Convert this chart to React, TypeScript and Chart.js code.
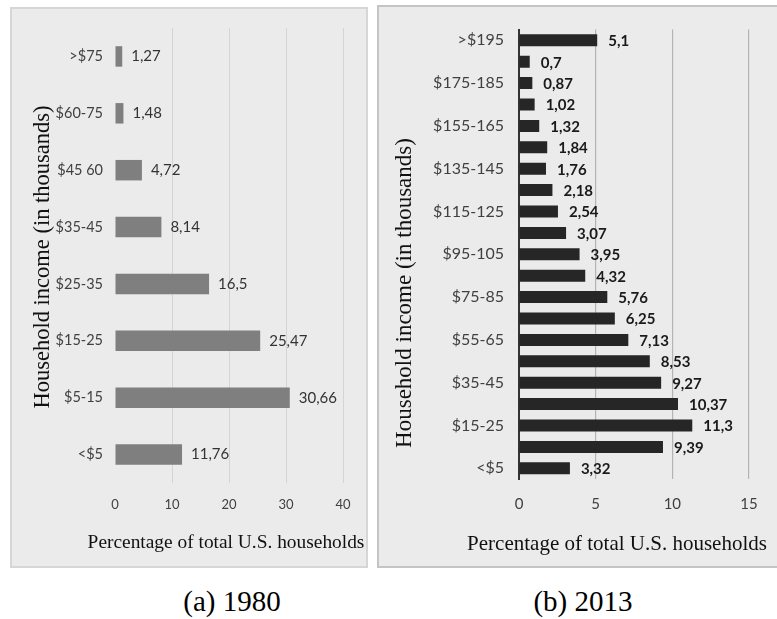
import React, { useEffect, useRef } from "react";
import { Chart, registerables } from "chart.js";

Chart.register(...registerables);

// ---- Data ----
const labels1980 = [">$75", "$60-75", "$45 60", "$35-45", "$25-35", "$15-25", "$5-15", "<$5"];
const values1980 = [1.27, 1.48, 4.72, 8.14, 16.5, 25.47, 30.66, 11.76];
const ticks1980 = [0, 10, 20, 30, 40];

const labels2013 = [
  ">$195", "$185-195", "$175-185", "$165-175", "$155-165", "$145-155", "$135-145",
  "$125-135", "$115-125", "$105-115", "$95-105", "$85-95", "$75-85", "$65-75",
  "$55-65", "$45-55", "$35-45", "$25-35", "$15-25", "$5-15", "<$5",
];
const values2013 = [
  5.1, 0.7, 0.87, 1.02, 1.32, 1.84, 1.76, 2.18, 2.54, 3.07, 3.95, 4.32, 5.76, 6.25,
  7.13, 8.53, 9.27, 10.37, 11.3, 9.39, 3.32,
];
const ticks2013 = [0, 5, 10, 15];

const xTitle = "Percentage of total U.S. households";
const yTitle = "Household income (in thousands)";
const caption1980 = "(a) 1980";
const caption2013 = "(b) 2013";

const fmt = (v: number) => String(v).replace(".", ",");

const valueLabels = {
  id: "valueLabels",
  afterDatasetsDraw(chart: any, _args: any, opts: any) {
    const ctx = chart.ctx;
    const meta = chart.getDatasetMeta(0);
    const data = chart.data.datasets[0].data as number[];
    ctx.save();
    ctx.font = opts.font;
    ctx.fillStyle = opts.color;
    ctx.textAlign = "left";
    ctx.textBaseline = "middle";
    meta.data.forEach((bar: any, i: number) => {
      ctx.fillText(fmt(data[i]), bar.x + opts.offset, bar.y + (opts.dy || 0));
    });
    ctx.restore();
  },
};

const axisTitles = {
  id: "axisTitles",
  afterDraw(chart: any, _args: any, opts: any) {
    const ctx = chart.ctx;
    for (const t of opts.items || []) {
      ctx.save();
      ctx.translate(t.x, t.y);
      if (t.rotate) ctx.rotate(-Math.PI / 2);
      ctx.font = t.font;
      ctx.fillStyle = t.color || "#000";
      ctx.textAlign = "center";
      ctx.textBaseline = "middle";
      ctx.fillText(t.text, 0, 0);
      ctx.restore();
    }
  },
};

const TICK_FONT = "Lato";
const SERIF = "'Liberation Serif', 'Times New Roman', serif";

function config1980(): any {
  return {
    type: "bar",
    data: {
      labels: labels1980,
      datasets: [
        {
          data: values1980,
          backgroundColor: "#7f7f7f",
          barPercentage: 0.36,
          categoryPercentage: 1,
        },
      ],
    },
    options: {
      indexAxis: "y",
      responsive: false,
      animation: false,
      devicePixelRatio: 1,
      layout: { padding: { left: 0, top: 21, right: 25, bottom: 0 } },
      plugins: {
        legend: { display: false },
        tooltip: { enabled: false },
        valueLabels: { font: `15px ${TICK_FONT}`, color: "#333333", offset: 9 },
        axisTitles: {
          items: [
            { text: xTitle, x: 216, y: 536, font: `19.4px ${SERIF}`, color: "#111" },
            { text: yTitle, x: 33, y: 250, rotate: true, font: `22.5px ${SERIF}`, color: "#111" },
          ],
        },
      },
      scales: {
        x: {
          min: 0,
          max: 40,
          afterBuildTicks: (s: any) => {
            s.ticks = ticks1980.map((v) => ({ value: v }));
          },
          afterFit: (s: any) => {
            s.height = 85;
          },
          grid: {
            drawTicks: false,
            color: (c: any) => (c.tick && c.tick.value === 0 ? "rgba(0,0,0,0)" : "#d4d4d4"),
            lineWidth: 1,
          },
          border: { display: false },
          ticks: { padding: 14, font: { family: TICK_FONT, size: 13 }, color: "#404040" },
        },
        y: {
          afterFit: (s: any) => {
            s.width = 105;
          },
          grid: { display: false, drawTicks: false },
          border: { display: false },
          ticks: { padding: 12, autoSkip: false, font: { family: TICK_FONT, size: 14.5 }, color: "#404040" },
        },
      },
    },
    plugins: [valueLabels, axisTitles],
  };
}

function config2013(): any {
  return {
    type: "bar",
    data: {
      labels: labels2013,
      datasets: [
        {
          data: values2013,
          backgroundColor: "#262626",
          barPercentage: 0.56,
          categoryPercentage: 1,
        },
      ],
    },
    options: {
      indexAxis: "y",
      responsive: false,
      animation: false,
      devicePixelRatio: 1,
      layout: { padding: { left: 0, top: 22, right: 28, bottom: 0 } },
      plugins: {
        legend: { display: false },
        tooltip: { enabled: false },
        valueLabels: { font: `bold 15px ${TICK_FONT}`, color: "#1a1a1a", offset: 11, dy: 1 },
        axisTitles: {
          items: [
            { text: xTitle, x: 240, y: 539, font: `21px ${SERIF}`, color: "#111" },
            { text: yTitle, x: 28, y: 288, rotate: true, font: `23px ${SERIF}`, color: "#111" },
          ],
        },
      },
      scales: {
        x: {
          min: 0,
          max: 15,
          afterBuildTicks: (s: any) => {
            s.ticks = ticks2013.map((v) => ({ value: v }));
          },
          afterFit: (s: any) => {
            s.height = 89;
          },
          grid: {
            drawTicks: false,
            color: (c: any) => (c.tick && c.tick.value === 0 ? "rgba(0,0,0,0)" : "#b4b4b4"),
            lineWidth: 1.2,
          },
          border: { display: false },
          ticks: { padding: 16, font: { family: TICK_FONT, size: 15 }, color: "#404040" },
        },
        y: {
          afterFit: (s: any) => {
            s.width = 142;
          },
          grid: { display: false, drawTicks: false },
          border: { display: true, color: "#333333", width: 2 },
          ticks: {
            padding: 15,
            autoSkip: false,
            font: { family: TICK_FONT, size: 16 },
            color: "#404040",
            callback: (_v: any, i: number) => (i % 2 === 0 ? labels2013[i] : ""),
          },
        },
      },
    },
    plugins: [valueLabels, axisTitles],
  };
}

export default function App() {
  const ref1 = useRef<HTMLCanvasElement | null>(null);
  const ref2 = useRef<HTMLCanvasElement | null>(null);

  useEffect(() => {
    const c1 = new Chart(ref1.current as HTMLCanvasElement, config1980());
    const c2 = new Chart(ref2.current as HTMLCanvasElement, config2013());
    return () => {
      c1.destroy();
      c2.destroy();
    };
  }, []);

  const captionStyle: React.CSSProperties = {
    position: "absolute",
    top: 585,
    width: 200,
    textAlign: "center",
    fontFamily: SERIF,
    fontSize: 29,
    lineHeight: "32px",
    color: "#000",
  };

  return (
    <div
      style={{
        position: "fixed",
        left: 0,
        top: 0,
        width: 777,
        height: 619,
        overflow: "hidden",
        background: "#ffffff",
      }}
    >
      <div
        style={{
          position: "absolute",
          left: 10,
          top: 7,
          width: 358,
          height: 561,
          boxSizing: "border-box",
          background: "#ebebeb",
          border: "2px solid #d6d6d6",
        }}
      />
      <canvas
        ref={ref1}
        width={358}
        height={561}
        style={{ position: "absolute", left: 10, top: 7, width: 358, height: 561 }}
      />
      <div
        style={{
          position: "absolute",
          left: 377,
          top: 5,
          width: 410,
          height: 563,
          boxSizing: "border-box",
          background: "#ebebeb",
          border: "2px solid #c4c4c4",
        }}
      />
      <canvas
        ref={ref2}
        width={400}
        height={563}
        style={{ position: "absolute", left: 377, top: 5, width: 400, height: 563 }}
      />
      <div style={{ ...captionStyle, left: 132 }}>{caption1980}</div>
      <div style={{ ...captionStyle, left: 483 }}>{caption2013}</div>
    </div>
  );
}
